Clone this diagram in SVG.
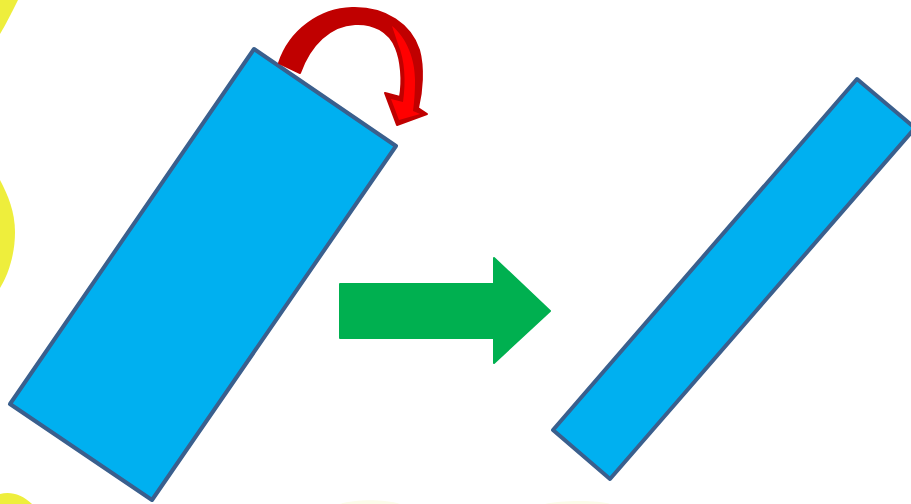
<svg xmlns="http://www.w3.org/2000/svg" width="911" height="504" viewBox="0 0 911 504">
<style>
.rect{fill:#00B0F0;stroke:#3A5F8D;stroke-width:4;stroke-linejoin:round}
.blob{fill:#EEEE3C}
</style>
<rect width="911" height="504" fill="#ffffff"/>
<g id="background">
<path class="blob" d="M0 0 L18 0 C12 12 6 24 0 34 Z"/>
<path class="blob" d="M0 180 C8 195 15 212 15 232 C15 255 8 275 0 288 Z"/>
<path class="blob" d="M0 504 L0 494 C10 491 22 494 32 504 Z"/>
<path d="M340 504 C355 499 385 499 400 504 Z" fill="#FCFCEA"/>
<path d="M545 504 C560 500 600 500 610 504 Z" fill="#FCFCEA"/>
</g>
<g id="rect-left">
<polygon class="rect" points="254,49 396,146 152,500 10,404"/>
</g>
<g id="rect-right">
<polygon class="rect" points="857,79 915,128 610,479 553,430"/>
</g>
<g id="rotate-arrow">
<path d="M279 63 C290 30 320 9 352 8 C386 7 411 25 419 50 C424 68 422 92 418 108 L427 114 L397 125 L385 93 L400 97 C403 80 401 60 396 48 C389 31 373 23 355 24 C330 25 310 45 300 73 Z" fill="#C00000" stroke="#C00000" stroke-width="2" stroke-linejoin="round"/>
<path d="M392 26 C407 38 415 60 415 80 C415 94 414 104 413 111 L420 114 L399 120 L391 99 L403 102 C406 82 405 60 398 44 Z" fill="#FF0000"/>
</g>
<g id="connectors">
<polygon points="340,284 494,284 494,258 550,311 494,363 494,338 340,338" fill="#00B050" stroke="#00B050" stroke-width="2" stroke-linejoin="round"/>
</g>
</svg>
